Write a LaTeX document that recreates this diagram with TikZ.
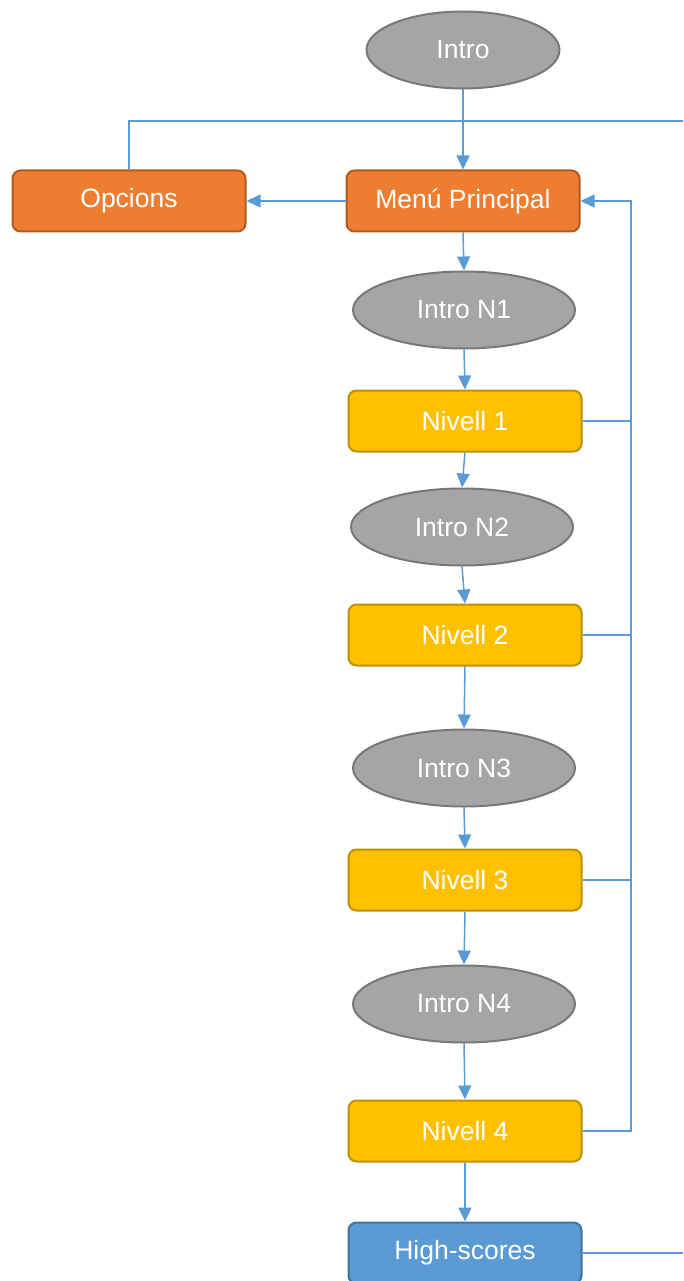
\documentclass[tikz,border=0pt]{standalone}
\usepackage{fontspec}
\setmainfont{Liberation Sans}
\usetikzlibrary{arrows.meta,shapes.geometric}
\definecolor{lnblue}{HTML}{5B9BD5}
\definecolor{orfill}{HTML}{ED7D31}
\definecolor{ordraw}{HTML}{AE5A21}
\definecolor{gdfill}{HTML}{FFC000}
\definecolor{gddraw}{HTML}{BF9000}
\definecolor{gyfill}{HTML}{A5A5A5}
\definecolor{gydraw}{HTML}{787878}
\definecolor{bldraw}{HTML}{41719C}
\tikzset{
  label font/.style={font=\fontsize{26.5}{30}\selectfont},
  box/.style={rectangle, rounded corners=8pt, line width=2pt, minimum width=233pt,
    minimum height=61pt, inner sep=0pt, text=white, label font},
  menubox/.style={box, fill=orfill, draw=ordraw},
  levelbox/.style={box, fill=gdfill, draw=gddraw},
  scorebox/.style={box, fill=lnblue, draw=bldraw},
  introell/.style={ellipse, fill=gyfill, draw=gydraw, line width=2pt, minimum width=222pt,
    minimum height=77pt, inner sep=0pt, text=white, label font},
  link/.style={draw=lnblue, line width=1.5pt},
  arrow/.style={link, -{Triangle[length=14pt,width=13pt]}},
}
\begin{document}
\begin{tikzpicture}[x=1pt,y=-1pt]
\useasboundingbox (0,0) rectangle (683,1281);

% screens
\node[introell, minimum width=193pt] (intro) at (463,50) {Intro};
\node[menubox] (opc) at (129,201) {Opcions};
\node[menubox] (menu) at (463,201) {Menú Principal};
\node[introell] (i1) at (464,310) {Intro N1};
\node[levelbox] (n1) at (465,421) {Nivell 1};
\node[introell] (i2) at (462,527) {Intro N2};
\node[levelbox] (n2) at (465,635) {Nivell 2};
\node[introell] (i3) at (464,768) {Intro N3};
\node[levelbox] (n3) at (465,880) {Nivell 3};
\node[introell] (i4) at (464,1004) {Intro N4};
\node[levelbox] (n4) at (465,1131) {Nivell 4};
\node[scorebox] (hs) at (465,1253) {High-scores};

% return bus and off-page links
\coordinate (bus) at (631,201);
\coordinate (topR) at (683,121);
\coordinate (hsR) at (683,1253);

% main flow
\draw[arrow] (intro.south) -- (menu.north);
\draw[arrow] (menu.west) -- (opc.east);
\draw[arrow] (menu.south) -- (i1.north);
\draw[arrow] (i1.south) -- (n1.north);
\draw[arrow] (n1.south) -- (i2.north);
\draw[arrow] (i2.south) -- (n2.north);
\draw[arrow] (n2.south) -- (i3.north);
\draw[arrow] (i3.south) -- (n3.north);
\draw[arrow] (n3.south) -- (i4.north);
\draw[arrow] (i4.south) -- (n4.north);
\draw[arrow] (n4.south) -- (hs.north);

% back to the main menu
\draw[arrow] (n4.east) -| (bus) -- (menu.east);
\draw[link] (n1.east) -- (n1.east -| bus);
\draw[link] (n2.east) -- (n2.east -| bus);
\draw[link] (n3.east) -- (n3.east -| bus);

% links leaving the page
\draw[link] (opc.north) |- (topR);
\draw[link] (hs.east) -- (hsR);
\end{tikzpicture}
\end{document}
